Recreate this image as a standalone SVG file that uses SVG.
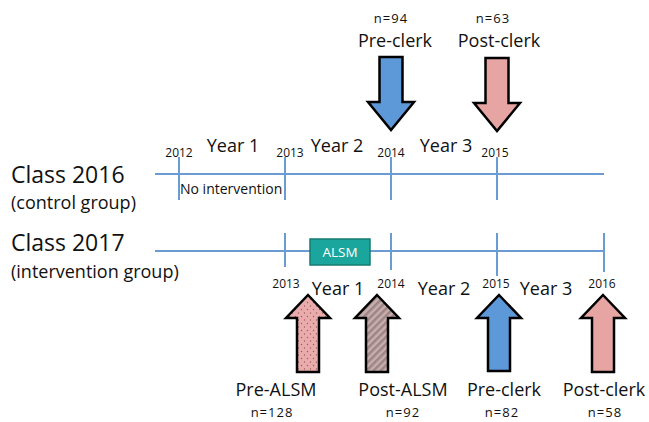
<svg xmlns="http://www.w3.org/2000/svg" width="649" height="422" viewBox="0 0 649 422">
<style>
text{font-family:"Open Sans","Noto Sans","Liberation Sans",sans-serif;fill:#111}
.cls{font-size:23px}
.sub{font-size:18px}
.yr{font-size:12px;text-anchor:middle}
.year{font-size:18px;text-anchor:middle}
.lbl{font-size:18px;text-anchor:middle}
.n{font-size:13px;text-anchor:middle;letter-spacing:1px}
.tl{stroke:#6b9bd3;stroke-width:2;fill:none}
.arr{stroke:#000;stroke-width:2.5;stroke-linejoin:miter}
.blue{fill:#5d98d8}
.pink{fill:#e6a4a3}
</style>
<defs>
<pattern id="dots" width="6" height="7" patternUnits="userSpaceOnUse">
<rect width="6" height="7" fill="#e9abab"/>
<circle cx="1.5" cy="1.5" r="0.7" fill="#9a5a5a"/>
<circle cx="4.5" cy="5" r="0.7" fill="#9a5a5a"/>
</pattern>
<pattern id="hatch" width="5" height="5" patternUnits="userSpaceOnUse" patternTransform="rotate(45)">
<rect width="5" height="5" fill="#c9aeae"/>
<rect width="2.5" height="5" fill="#9b8585"/>
</pattern>
</defs>

<g id="connectors">
<line class="tl" x1="155" y1="174" x2="604" y2="174"/>
<line class="tl" x1="179" y1="157" x2="179" y2="200"/>
<line class="tl" x1="285" y1="157" x2="285" y2="200"/>
<line class="tl" x1="391" y1="157" x2="391" y2="200"/>
<line class="tl" x1="497" y1="157" x2="497" y2="200"/>
<line class="tl" x1="155" y1="251" x2="604" y2="251"/>
<line class="tl" x1="285" y1="233" x2="285" y2="267"/>
<line class="tl" x1="391" y1="233" x2="391" y2="270"/>
<line class="tl" x1="497" y1="233" x2="497" y2="276"/>
<line class="tl" x1="604" y1="233" x2="604" y2="272"/>
</g>

<g id="class2016">
<text class="cls" x="11" y="183">Class 2016</text>
<text class="sub" x="11" y="208.5">(control group)</text>
</g>
<g id="class2017">
<text class="cls" x="11" y="251">Class 2017</text>
<text class="sub" x="11" y="278">(intervention group)</text>
</g>

<g id="upper-labels">
<text class="yr" x="179" y="157">2012</text>
<text class="yr" x="290" y="157">2013</text>
<text class="yr" x="391" y="157">2014</text>
<text class="yr" x="495" y="157">2015</text>
<text class="year" x="233" y="152">Year 1</text>
<text class="year" x="337" y="152">Year 2</text>
<text class="year" x="446" y="152">Year 3</text>
<text x="180" y="194" style="font-size:14px">No intervention</text>
</g>

<g id="lower-labels">
<text class="yr" x="286" y="288">2013</text>
<text class="yr" x="391" y="288">2014</text>
<text class="yr" x="496" y="288">2015</text>
<text class="yr" x="602" y="288">2016</text>
<text class="year" x="338" y="295">Year 1</text>
<text class="year" x="444" y="295">Year 2</text>
<text class="year" x="546" y="295">Year 3</text>
</g>

<g id="alsm">
<rect x="310" y="239" width="60" height="26" fill="#1ba69d" stroke="#167c75" stroke-width="1.5"/>
<text x="340" y="257" style="font-size:13.5px;fill:#fff;text-anchor:middle">ALSM</text>
</g>

<g id="top-preclerk">
<text class="n" x="391" y="23">n=94</text>
<text class="lbl" x="395" y="47">Pre-clerk</text>
<polygon class="arr blue" points="379.5,57 402.5,57 402.5,102 414,102 391,130 368,102 379.5,102"/>
</g>
<g id="top-postclerk">
<text class="n" x="493" y="23">n=63</text>
<text class="lbl" x="499" y="47">Post-clerk</text>
<polygon class="arr pink" points="485.5,58 508.5,58 508.5,103 520,103 497,131 474,103 485.5,103"/>
</g>

<g id="bottom-prealsm">
<polygon class="arr" fill="url(#dots)" points="308,295 330,318 319,318 319,372 297,372 297,318 286,318"/>
<text class="lbl" x="276" y="396">Pre-ALSM</text>
<text class="n" x="272" y="417">n=128</text>
</g>
<g id="bottom-postalsm">
<polygon class="arr" fill="url(#hatch)" points="377,295 399,318 388,318 388,372 366,372 366,318 355,318"/>
<text class="lbl" x="403" y="396">Post-ALSM</text>
<text class="n" x="403" y="417">n=92</text>
</g>
<g id="bottom-preclerk">
<polygon class="arr blue" points="499,295 521,318 510,318 510,371 488,371 488,318 477,318"/>
<text class="lbl" x="504" y="396">Pre-clerk</text>
<text class="n" x="502" y="417">n=82</text>
</g>
<g id="bottom-postclerk">
<polygon class="arr pink" points="603,295 625,318 614,318 614,372 592,372 592,318 581,318"/>
<text class="lbl" x="604" y="396">Post-clerk</text>
<text class="n" x="605" y="417">n=58</text>
</g>
</svg>
